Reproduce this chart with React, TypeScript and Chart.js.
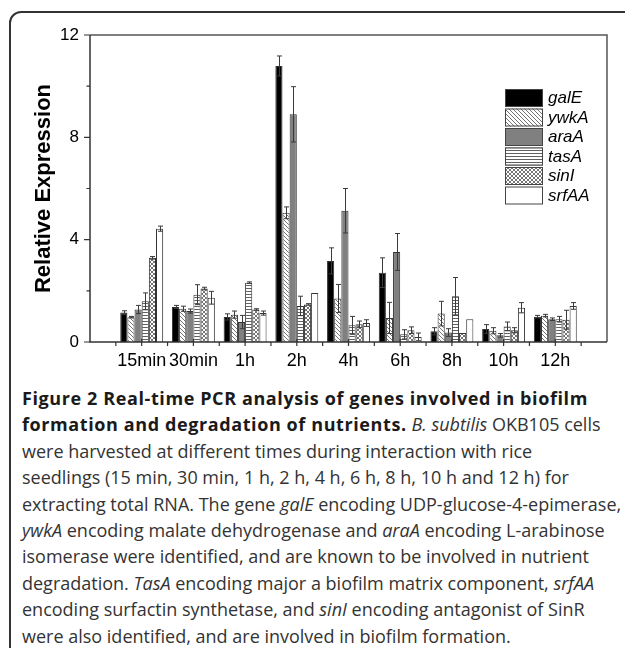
import React, { useEffect, useRef } from 'react';
import { Chart, registerables } from 'chart.js';
Chart.register(...registerables);

const categories = ['15min', '30min', '1h', '2h', '4h', '6h', '8h', '10h', '12h'];
const seriesNames = ['galE', 'ywkA', 'araA', 'tasA', 'sinI', 'srfAA'];

const galE = [1.15, 1.37, 0.98, 10.79, 3.17, 2.71, 0.42, 0.51, 0.99];
const galEErr = [0.07, 0.06, 0.12, 0.39, 0.51, 0.58, 0.14, 0.17, 0.05];
const ywkA = [0.97, 1.3, 1.07, 5.05, 1.7, 0.94, 1.11, 0.44, 1.03];
const ywkAErr = [0.03, 0.1, 0.14, 0.23, 0.55, 0.61, 0.48, 0.12, 0.05];
const araA = [1.27, 1.21, 0.78, 8.9, 5.13, 3.52, 0.37, 0.26, 0.89];
const araAErr = [0.16, 0.08, 0.26, 1.08, 0.87, 0.72, 0.15, 0.07, 0.05];
const tasA = [1.59, 1.85, 2.32, 1.41, 0.65, 0.3, 1.79, 0.61, 0.89];
const tasAErr = [0.33, 0.39, 0.03, 0.38, 0.35, 0.18, 0.73, 0.17, 0.11];
const sinI = [3.29, 2.09, 1.27, 1.47, 0.69, 0.46, 0.35, 0.46, 0.87];
const sinIErr = [0.05, 0.05, 0.03, 0.03, 0.13, 0.13, 0, 0.1, 0.37];
const srfAA = [4.43, 1.73, 1.13, 1.92, 0.74, 0.2, 0.89, 1.34, 1.41];
const srfAAErr = [0.1, 0.25, 0.08, 0, 0.13, 0.15, 0, 0.2, 0.13];

const yMajorTicks = [0, 4, 8, 12];
const yMinorTicks = [2, 6, 10];

const FONT = '"Liberation Sans", Arial, sans-serif';

function makePattern(kind: string): CanvasPattern | string {
  if (kind === 'black') return '#000000';
  if (kind === 'gray') return '#808080';
  if (kind === 'white') return '#ffffff';
  const c = document.createElement('canvas');
  const s = kind === 'horiz' ? 3 : 4;
  c.width = s;
  c.height = s;
  const g = c.getContext('2d')!;
  g.fillStyle = '#ffffff';
  g.fillRect(0, 0, s, s);
  g.strokeStyle = '#505050';
  g.lineWidth = 0.8;
  if (kind === 'horiz') {
    g.fillStyle = '#606060';
    g.fillRect(0, 0, s, 1);
  } else {
    const back = () => {
      g.beginPath();
      g.moveTo(-1, -1); g.lineTo(s + 1, s + 1);
      g.moveTo(-1, s - 1); g.lineTo(1, s + 1);
      g.moveTo(s - 1, -1); g.lineTo(s + 1, 1);
      g.stroke();
    };
    const fwd = () => {
      g.beginPath();
      g.moveTo(-1, s + 1); g.lineTo(s + 1, -1);
      g.moveTo(-1, 1); g.lineTo(1, -1);
      g.moveTo(s - 1, s + 1); g.lineTo(s + 1, s - 1);
      g.stroke();
    };
    back();
    if (kind === 'cross') fwd();
  }
  return g.createPattern(c, 'repeat')!;
}

export default function App() {
  const ref = useRef<HTMLCanvasElement>(null);

  useEffect(() => {
    const canvas = ref.current!;
    const values = [galE, ywkA, araA, tasA, sinI, srfAA];
    const errors = [galEErr, ywkAErr, araAErr, tasAErr, sinIErr, srfAAErr];
    const fills = ['black', 'diag', 'gray', 'horiz', 'cross', 'white'].map(makePattern);
    const padded = (a: number[]) => [null, ...a, null];

    const decorPlugin = {
      id: 'decor',
      afterDatasetsDraw(chart: any) {
        const ctx = chart.ctx;
        const y = chart.scales.y;
        ctx.save();
        ctx.strokeStyle = '#3a3a3a';
        ctx.lineWidth = 1;
        chart.data.datasets.forEach((ds: any, k: number) => {
          const meta = chart.getDatasetMeta(k);
          errors[k].forEach((e, j) => {
            if (!e) return;
            const bar = meta.data[j + 1];
            const v = values[k][j];
            const x = Math.round(bar.x) + 0.5;
            const yt = y.getPixelForValue(v + e);
            const yb = y.getPixelForValue(v - e);
            ctx.beginPath();
            ctx.moveTo(x, yt); ctx.lineTo(x, yb);
            ctx.moveTo(x - 2.5, yt); ctx.lineTo(x + 2.5, yt);
            ctx.moveTo(x - 2.5, yb); ctx.lineTo(x + 2.5, yb);
            ctx.stroke();
          });
        });
        ctx.restore();
      },
      afterDraw(chart: any) {
        const ctx = chart.ctx;
        const { left, right, top, bottom } = chart.chartArea;
        const y = chart.scales.y;
        const x = chart.scales.x;
        ctx.save();
        ctx.strokeStyle = '#555555';
        ctx.lineWidth = 1.5;
        ctx.beginPath();
        ctx.moveTo(left, top); ctx.lineTo(right, top); ctx.lineTo(right, bottom);
        ctx.stroke();
        ctx.strokeStyle = '#333333';
        ctx.beginPath();
        ctx.moveTo(left, top); ctx.lineTo(left, bottom); ctx.lineTo(right, bottom);
        ctx.stroke();
        ctx.lineWidth = 1.2;
        ctx.beginPath();
        yMajorTicks.forEach((t) => {
          const p = y.getPixelForValue(t);
          ctx.moveTo(left - 6, p); ctx.lineTo(left, p);
        });
        yMinorTicks.forEach((t) => {
          const p = y.getPixelForValue(t);
          ctx.moveTo(left - 3.5, p); ctx.lineTo(left, p);
        });
        const n = chart.data.labels.length;
        for (let i = 1; i < n - 1; i++) {
          const c = x.getPixelForValue(i);
          ctx.moveTo(c, bottom - 3); ctx.lineTo(c, bottom + 4);
        }
        for (let i = 0; i < n - 1; i++) {
          const b = (x.getPixelForValue(i) + x.getPixelForValue(i + 1)) / 2;
          ctx.moveTo(b, bottom); ctx.lineTo(b, bottom + 4);
        }
        ctx.stroke();
        const lx = right - 102;
        const ly = top + 54;
        const rowH = 19.5;
        seriesNames.forEach((name, k) => {
          const by = ly + k * rowH;
          ctx.fillStyle = fills[k] as any;
          ctx.fillRect(lx, by, 38, 18);
          ctx.strokeStyle = '#444444';
          ctx.lineWidth = 1;
          ctx.strokeRect(lx + 0.5, by + 0.5, 37, 17);
          ctx.fillStyle = '#000000';
          ctx.font = `italic 17px ${FONT}`;
          ctx.textBaseline = 'middle';
          ctx.textAlign = 'left';
          ctx.fillText(name, lx + 43, by + 9.5);
        });
        ctx.restore();
      },
    };

    const chart = new Chart(canvas, {
      type: 'bar',
      data: {
        labels: ['', ...categories, ''],
        datasets: seriesNames.map((name, k) => ({
          label: name,
          data: padded(values[k]),
          backgroundColor: fills[k] as any,
          borderColor: '#333333',
          borderWidth: 1,
          categoryPercentage: 0.83,
          barPercentage: 1,
        })),
      },
      options: {
        responsive: false,
        animation: false,
        devicePixelRatio: 1,
        layout: { padding: { top: 35, right: 18, left: 0, bottom: 0 } },
        plugins: { legend: { display: false }, tooltip: { enabled: false } },
        scales: {
          x: {
            type: 'category',
            offset: false,
            grid: { display: false, drawTicks: false },
            border: { display: false },
            ticks: {
              autoSkip: false,
              maxRotation: 0,
              padding: 8,
              color: '#000',
              font: { family: FONT, size: 18 },
            },
            afterFit: (s: any) => { s.height = 33; },
          },
          y: {
            min: 0,
            max: 12,
            grid: { display: false, drawTicks: false },
            border: { display: false },
            ticks: {
              stepSize: 4,
              padding: 11,
              color: '#000',
              font: { family: FONT, size: 17 },
            },
            title: {
              display: true,
              text: 'Relative Expression',
              color: '#000',
              font: { family: FONT, size: 22, weight: 'bold' },
              padding: { top: 31, bottom: 0 },
            },
            afterFit: (s: any) => { s.width = 90; },
          },
        },
      },
      plugins: [decorPlugin],
    });
    return () => chart.destroy();
  }, []);

  const capStyle: React.CSSProperties = {
    position: 'absolute',
    left: 22,
    top: 385,
    fontFamily: '"Open Sans", "Noto Sans", sans-serif',
    fontSize: 18,
    lineHeight: '26.4px',
    color: '#333',
    whiteSpace: 'nowrap',
  };
  const boldStyle: React.CSSProperties = { color: '#1a1a1a', letterSpacing: '0.6px' };

  return (
    <div style={{ position: 'absolute', left: 0, top: 0, width: 625, height: 648, overflow: 'hidden', background: '#fff' }}>
      <div
        style={{
          position: 'absolute',
          left: 9,
          top: 11,
          width: 800,
          height: 800,
          border: '2px solid #333',
          borderTopLeftRadius: 12,
          boxSizing: 'border-box',
        }}
      />
      <canvas ref={ref} width={625} height={375} style={{ position: 'absolute', left: 0, top: 0, width: 625, height: 375 }} />
      <div style={capStyle}>
        <b style={boldStyle}>Figure 2 Real-time PCR analysis of genes involved in biofilm</b>
        <br />
        <b style={boldStyle}>formation and degradation of nutrients.</b> <i>B. subtilis</i> OKB105 cells
        <br />
        were harvested at different times during interaction with rice
        <br />
        seedlings (15 min, 30 min, 1 h, 2 h, 4 h, 6 h, 8 h, 10 h and 12 h) for
        <br />
        extracting total RNA. The gene <i>galE</i> encoding UDP-glucose-4-epimerase,
        <br />
        <i>ywkA</i> encoding malate dehydrogenase and <i>araA</i> encoding L-arabinose
        <br />
        isomerase were identified, and are known to be involved in nutrient
        <br />
        degradation. <i>TasA</i> encoding major a biofilm matrix component, <i>srfAA</i>
        <br />
        encoding surfactin synthetase, and <i>sinI</i> encoding antagonist of SinR
        <br />
        were also identified, and are involved in biofilm formation.
      </div>
    </div>
  );
}
